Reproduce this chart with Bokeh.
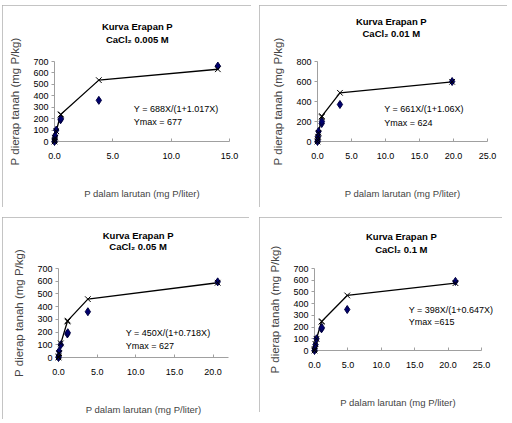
from bokeh.plotting import figure
from bokeh.layouts import row, column, Spacer
from bokeh.models import FixedTicker, PrintfTickFormatter, Range1d
from bokeh.core.properties import value
from bokeh.embed import file_html
from bokeh.resources import INLINE

# ---------------- data ----------------
main_title = "Kurva Erapan P"
sub_titles = ["CaCl\u2082 0.005 M", "CaCl\u2082 0.01 M", "CaCl\u2082 0.05 M", "CaCl\u2082 0.1 M"]
x_label = "P dalam larutan (mg P/liter)"
y_label = "P dierap tanah (mg P/kg)"

# measured points (diamonds)
obs_x_1 = [0.0, 0.02, 0.05, 0.15, 0.52, 0.55, 3.8, 14.0]
obs_y_1 = [0, 20, 50, 100, 190, 200, 360, 660]
obs_x_2 = [0.0, 0.03, 0.08, 0.15, 0.62, 0.65, 3.3, 19.8]
obs_y_2 = [0, 15, 50, 100, 180, 200, 370, 600]
obs_x_3 = [0.0, 0.02, 0.08, 0.3, 1.15, 1.2, 3.8, 20.6]
obs_y_3 = [0, 10, 50, 100, 185, 195, 360, 595]
obs_x_4 = [0.0, 0.03, 0.15, 0.3, 1.05, 1.1, 4.9, 21.1]
obs_y_4 = [0, 15, 50, 100, 185, 195, 350, 590]

# Langmuir fit values (x markers joined by line)
fit_y_1 = [0, 14, 33, 90, 235, 238, 537, 632]
fit_y_2 = [0, 19, 48, 86, 245, 254, 487, 597]
fit_y_3 = [0, 9, 34, 111, 283, 290, 459, 588]
fit_y_4 = [0, 12, 54, 100, 245, 250, 470, 575]

equations = ["Y = 688X/(1+1.017X)", "Y = 661X/(1+1.06X)",
             "Y = 450X/(1+0.718X)", "Y = 398X/(1+0.647X)"]
ymax_texts = ["Ymax = 677", "Ymax = 624", "Ymax = 627", "Ymax =615"]

x_ticks_1 = [0, 5, 10, 15]
x_ticks_2 = [0, 5, 10, 15, 20, 25]
x_ticks_3 = [0, 5, 10, 15, 20]
x_ticks_4 = [0, 5, 10, 15, 20, 25]
y_ticks_1 = [0, 100, 200, 300, 400, 500, 600, 700]
y_ticks_2 = [0, 200, 400, 600, 800]
y_ticks_3 = [0, 100, 200, 300, 400, 500, 600, 700]
y_ticks_4 = [0, 100, 200, 300, 400, 500, 600, 700]
x_max = [15, 25, 22, 25]
y_max = [700, 800, 700, 700]

FONT = "Liberation Sans"

# layout: canvas w, canvas h, frame left, frame top, frame w, frame h
layout_cfg = [
    (249, 202, 52, 54, 175, 83),
    (248, 202, 58, 56, 170, 80),
    (247, 202, 56, 51, 170, 89),
    (243, 195, 55, 51, 167, 82),
]
# annotation placement: title centre x (data), title px above frame (main, sub),
# equation left x (data), equation y (data), ymax y (data)
annot_cfg = [
    (7.1, 36, 23, 6.8, 281, 170),
    (10.85, 40, 28, 9.8, 321, 186),
    (10.3, 33, 22, 8.7, 193, 94),
    (13.0, 32, 19, 14.1, 342, 245),
]

obs_x = [obs_x_1, obs_x_2, obs_x_3, obs_x_4]
obs_y = [obs_y_1, obs_y_2, obs_y_3, obs_y_4]
fit_y = [fit_y_1, fit_y_2, fit_y_3, fit_y_4]
x_ticks = [x_ticks_1, x_ticks_2, x_ticks_3, x_ticks_4]
y_ticks = [y_ticks_1, y_ticks_2, y_ticks_3, y_ticks_4]


def make_panel(i):
    W, H, L, T, FW, FH = layout_cfg[i]
    tx, t1, t2, ex, ey, my = annot_cfg[i]
    xm, ym = x_max[i], y_max[i]
    p = figure(width=W, height=H, output_backend="svg", toolbar_location=None,
               x_range=Range1d(0, xm), y_range=Range1d(0, ym),
               min_border_left=L, min_border_top=T,
               min_border_right=W - L - FW, min_border_bottom=H - T - FH,
               title="")
    p.grid.visible = False
    p.outline_line_color = None
    p.background_fill_color = "white"
    p.border_fill_color = "white"
    p.styles = {"outline": "1px solid #b0b0b0", "outline-offset": "-1px"}

    xa = p.xaxis[0]
    xa.ticker = FixedTicker(ticks=x_ticks[i], minor_ticks=[])
    xa.formatter = PrintfTickFormatter(format="%.1f")
    xa.axis_line_color = "#a0a0a0"
    xa.major_tick_line_color = "#a0a0a0"
    xa.major_tick_in = 3
    xa.major_tick_out = 0
    xa.minor_tick_line_color = None
    xa.major_label_standoff = 11
    xa.major_label_text_font = FONT
    xa.major_label_text_font_size = "9px"
    xa.major_label_text_color = "black"
    xa.axis_label = x_label
    xa.axis_label_text_font = FONT
    xa.axis_label_text_font_size = "9.5px"
    xa.axis_label_text_font_style = "normal"
    xa.axis_label_standoff = 26

    ya = p.yaxis[0]
    ya.ticker = FixedTicker(ticks=y_ticks[i], minor_ticks=[])
    ya.axis_line_color = "#a0a0a0"
    ya.major_tick_line_color = "#a0a0a0"
    ya.major_tick_in = 0
    ya.major_tick_out = 3
    ya.minor_tick_line_color = None
    ya.major_label_standoff = 3
    ya.major_label_text_font = FONT
    ya.major_label_text_font_size = "9px"
    ya.major_label_text_color = "black"
    ya.axis_label = y_label
    ya.axis_label_text_font = FONT
    ya.axis_label_text_font_size = "11.5px"
    ya.axis_label_text_font_style = "normal"
    ya.axis_label_standoff = 9

    # drawn at the overlay level so nothing is clipped by the plot frame
    p.line(obs_x[i], fit_y[i], line_color="black", line_width=1.3, level="overlay")
    p.scatter(obs_x[i], obs_y[i], marker="diamond", size=8,
              fill_color="#00006e", line_color="#000040", level="overlay")
    p.scatter(obs_x[i], fit_y[i], marker="x", size=8, line_color="black",
              line_width=1, level="overlay")

    px_to_y = ym / FH
    p.text(x=[tx, tx], y=[ym + t1 * px_to_y, ym + t2 * px_to_y],
           text=[main_title, sub_titles[i]], text_font=value(FONT),
           text_font_size="9.5px", text_font_style="bold",
           text_align="center", text_baseline="middle", level="overlay")
    p.text(x=[ex, ex], y=[ey, my], text=[equations[i], ymax_texts[i]],
           text_font=value(FONT), text_font_size="9px",
           text_baseline="middle", level="overlay")
    return p


p1, p2, p3, p4 = [make_panel(i) for i in range(4)]
layout = column(
    Spacer(height=5),
    row(Spacer(width=2), p1, Spacer(width=8), p2),
    Spacer(height=10),
    row(Spacer(width=2), p3, Spacer(width=10), p4),
)

open("out.html", "w").write(file_html(layout, INLINE))
